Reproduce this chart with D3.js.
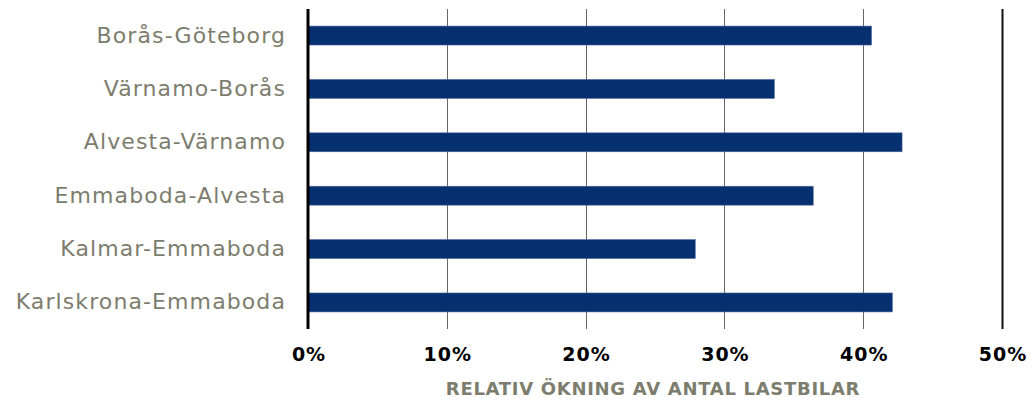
<!DOCTYPE html>
<html>
<head>
<meta charset="utf-8">
<script src="https://cdn.jsdelivr.net/npm/d3@7"></script>
<style>
  body { margin: 0; background: #fff; }
  text { font-family: "DejaVu Sans", Verdana, sans-serif; }
</style>
</head>
<body>
<div id="chart-area"></div>
<script>
const sections = ["Borås-Göteborg", "Värnamo-Borås", "Alvesta-Värnamo",
  "Emmaboda-Alvesta", "Kalmar-Emmaboda", "Karlskrona-Emmaboda"];
const increase = [40.6, 33.6, 42.8, 36.4, 27.9, 42.1];
const ticks = [0, 10, 20, 30, 40, 50];
const axisTitle = "RELATIV ÖKNING AV ANTAL LASTBILAR";

const W = 1035, H = 400;
const MARGIN = { LEFT: 308, RIGHT: 33, TOP: 9, BOTTOM: 71 };
const WIDTH = W - MARGIN.LEFT - MARGIN.RIGHT;
const HEIGHT = H - MARGIN.TOP - MARGIN.BOTTOM;

const data = sections.map((s, i) => ({ name: s, value: increase[i] }));

const x = d3.scaleLinear().domain([0, 50]).range([0, WIDTH]);
const y = d3.scaleBand().domain(sections).range([0, HEIGHT]).paddingInner(0.645).paddingOuter(0.32);

const svg = d3.select("#chart-area").append("svg")
  .attr("width", W).attr("height", H);
const g = svg.append("g")
  .attr("transform", `translate(${MARGIN.LEFT}, ${MARGIN.TOP})`);

// grid lines
g.selectAll("line.grid").data(ticks.slice(1)).enter().append("line")
  .attr("class", "grid")
  .attr("x1", d => Math.round(x(d)) + 0.5).attr("x2", d => Math.round(x(d)) + 0.5)
  .attr("y1", 0).attr("y2", HEIGHT)
  .attr("stroke", d => d === 50 ? "#111" : "#666")
  .attr("stroke-width", d => d === 50 ? 2 : 1);

// bars
g.selectAll("rect").data(data).enter().append("rect")
  .attr("x", 0)
  .attr("y", d => y(d.name))
  .attr("width", d => x(d.value))
  .attr("height", y.bandwidth())
  .attr("fill", "#063070")
  .attr("stroke", "#4d6a99")
  .attr("stroke-width", 0.6);

// axis line
g.append("line")
  .attr("x1", 0).attr("x2", 0).attr("y1", 0).attr("y2", HEIGHT)
  .attr("stroke", "#000").attr("stroke-width", 3);

// category labels
const leftAxis = d3.axisLeft(y).tickSize(0).tickPadding(22);
g.append("g").call(leftAxis)
  .call(a => a.select(".domain").remove())
  .selectAll("text")
  .style("font-family", '"DejaVu Sans", Verdana, sans-serif')
  .style("letter-spacing", "1.1px")
  .attr("font-size", 22).attr("fill", "#7d7d6e");

// tick labels
const bottomAxis = d3.axisBottom(x).tickValues(ticks).tickSize(0).tickPadding(19)
  .tickFormat(d => d + "%");
g.append("g").attr("transform", `translate(0, ${HEIGHT})`).call(bottomAxis)
  .call(a => a.select(".domain").remove())
  .selectAll("text")
  .style("font-family", '"DejaVu Sans", Verdana, sans-serif')
  .style("letter-spacing", "1px")
  .attr("dx", 0.5)
  .attr("font-size", 19).attr("font-weight", "bold").attr("fill", "#000");

svg.append("text")
  .attr("x", 653).attr("y", 395)
  .attr("text-anchor", "middle")
  .style("letter-spacing", "0.7px")
  .attr("font-size", 18).attr("font-weight", "bold").attr("fill", "#7d7d6e")
  .text(axisTitle);
</script>
</body>
</html>
